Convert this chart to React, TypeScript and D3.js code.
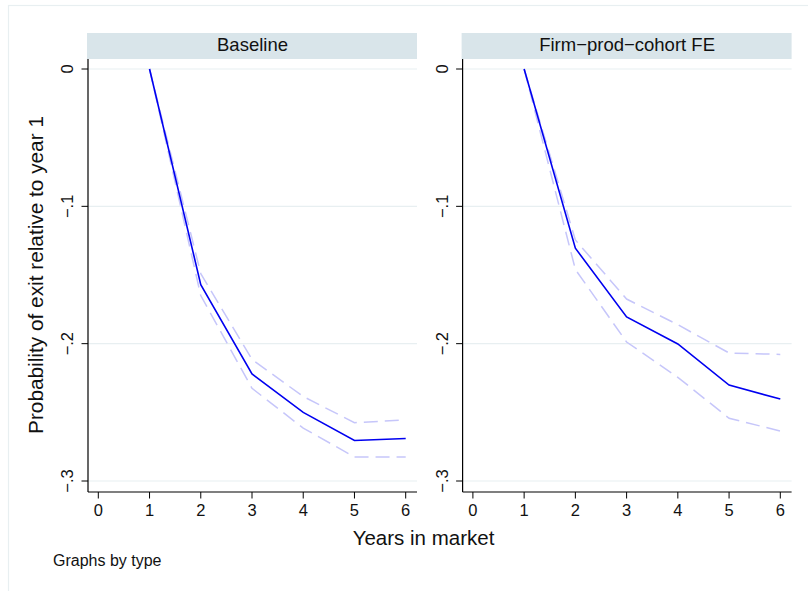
import React from "react";
import * as d3 from "d3";

const years = [1, 2, 3, 4, 5, 6];
const panelTitles = ["Baseline", "Firm\u2212prod\u2212cohort FE"];
const baselineCoef = [0, -0.157, -0.222, -0.25, -0.2705, -0.269];
const baselineUpper = [0, -0.149, -0.2115, -0.2385, -0.2575, -0.2555];
const baselineLower = [0, -0.165, -0.2325, -0.2615, -0.2825, -0.2825];
const fpcCoef = [0, -0.1305, -0.1805, -0.2002, -0.2302, -0.2403];
const fpcUpper = [0, -0.1245, -0.1675, -0.1862, -0.2068, -0.2078];
const fpcLower = [0, -0.146, -0.1988, -0.2245, -0.2543, -0.2636];
const xTicks = [0, 1, 2, 3, 4, 5, 6];
const yTicks = [0, -0.1, -0.2, -0.3];
const yTickLabels = ["0", "\u2212.1", "\u2212.2", "\u2212.3"];

const FONT = "'Liberation Sans', Arial, Helvetica, sans-serif";

const panels = [
  { title: panelTitles[0], coef: baselineCoef, upper: baselineUpper, lower: baselineLower },
  { title: panelTitles[1], coef: fpcCoef, upper: fpcUpper, lower: fpcLower },
];

const GRID = "#e8eff1";
const STRIP = "#d9e5ea";

function Panel({ p, offset }: { p: any; offset: number }) {
  const left = 88 + offset;
  const right = 417 + offset;
  const top = 59;
  const bottom = 492;
  const x = d3.scaleLinear().domain([0, 6]).range([98.3 + offset, 405.7 + offset]);
  const y = d3.scaleLinear().domain([0, -0.3]).range([69, 481]);
  const line = d3
    .line<number>()
    .x((_, i) => x(years[i]))
    .y((d) => y(d));
  return (
    <g>
      <rect x={left - 1} y={33} width={right - left + 1} height={26} fill={STRIP} />
      <text x={(left + right) / 2} y={51} textAnchor="middle" fontSize={18.5} fontFamily={FONT} fill="#111">
        {p.title}
      </text>
      {yTicks.map((t) => (
        <line key={"g" + t} x1={left} x2={right} y1={y(t)} y2={y(t)} stroke={GRID} strokeWidth={1.2} />
      ))}
      <path d={line(p.upper) || ""} fill="none" stroke="#c6c6fa" strokeWidth={1.5} strokeDasharray="14 7" />
      <path d={line(p.lower) || ""} fill="none" stroke="#c6c6fa" strokeWidth={1.5} strokeDasharray="14 7" />
      <path d={line(p.coef) || ""} fill="none" stroke="#0000f0" strokeWidth={1.6} />
      <line x1={left} x2={left} y1={top} y2={bottom} stroke="#000" strokeWidth={1.2} />
      <line x1={left} x2={right} y1={bottom} y2={bottom} stroke="#000" strokeWidth={1.2} />
      {yTicks.map((t, i) => (
        <g key={"y" + t}>
          <line x1={left - 6.5} x2={left} y1={y(t)} y2={y(t)} stroke="#000" strokeWidth={1} />
          <text
            transform={`translate(${left - 15},${y(t)}) rotate(-90)`}
            textAnchor="middle"
            fontSize={16.5}
            fontFamily={FONT}
            fill="#111"
          >
            {yTickLabels[i]}
          </text>
        </g>
      ))}
      {xTicks.map((t) => (
        <g key={"x" + t}>
          <line x1={x(t)} x2={x(t)} y1={bottom} y2={bottom + 6.5} stroke="#000" strokeWidth={1} />
          <text x={x(t)} y={515.5} textAnchor="middle" fontSize={16.5} fontFamily={FONT} fill="#111">
            {t}
          </text>
        </g>
      ))}
    </g>
  );
}

export default function App() {
  return (
    <svg
      width={808}
      height={591}
      style={{ position: "absolute", left: 0, top: 0, background: "#fff" }}
    >
      <rect x={0} y={0} width={808} height={591} fill="#fff" />
      <rect x={8.5} y={5.5} width={810} height={620} fill="none" stroke={GRID} strokeWidth={1.2} />
      {panels.map((p, i) => (
        <Panel key={i} p={p} offset={i * 374.6} />
      ))}
      <text
        transform={`translate(43,275) rotate(-90)`}
        textAnchor="middle"
        fontSize={20.8}
        fontFamily={FONT}
        fill="#111"
      >
        Probability of exit relative to year 1
      </text>
      <text x={423.5} y={545} textAnchor="middle" fontSize={20.5} fontFamily={FONT} fill="#111">
        Years in market
      </text>
      <text x={53} y={566} fontSize={16} fontFamily={FONT} fill="#111">
        Graphs by type
      </text>
    </svg>
  );
}
